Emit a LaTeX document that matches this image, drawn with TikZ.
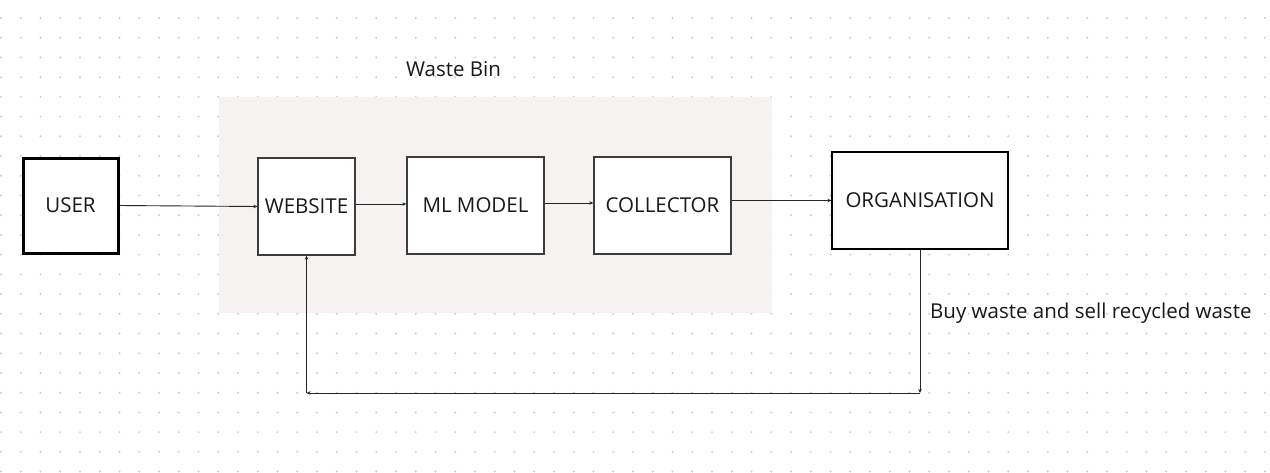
\documentclass[tikz,border=0pt]{standalone}
\usepackage{fontspec}
\setmainfont{Open Sans}
\usetikzlibrary{arrows.meta}
\definecolor{bgpink}{HTML}{F6F2F1}
\definecolor{dotgray}{HTML}{CDCDCD}
\definecolor{edgegray}{HTML}{3C3C3C}
\tikzset{
  box/.style={draw=edgegray, line width=1.3pt, fill=white, inner sep=0pt,
    font=\fontsize{20.5}{23}\selectfont, text=black!90},
  arr/.style={draw=black!85, line width=0.9pt, -{Stealth[length=4pt,width=3.5pt]}},
  lbl/.style={font=\fontsize{20.5}{23}\selectfont, text=black!90, inner sep=0pt}
}
\begin{document}
\begin{tikzpicture}[x=1pt,y=-1pt]
\useasboundingbox (0,0) rectangle (1270,472);
\fill[white] (0,0) rectangle (1270,472);
% dotted grid
\foreach \i in {0,...,64}{
  \foreach \j in {0,...,23}{
    \fill[dotgray] ({1+19.75*\i},{18+19.72*\j}) circle (1.1pt);
  }
}
% waste bin area
\fill[bgpink] (219,97) rectangle (772,313);
\node[lbl] (wastebin) at (453.5,69) {Waste Bin};
% boxes
\node[box, draw=black, line width=3pt, minimum width=95pt, minimum height=95pt] (user) at (70.5,205.5) {USER};
\node[box, minimum width=97pt, minimum height=97pt] (website) at (306.5,206.5) {WEBSITE};
\node[box, minimum width=137pt, minimum height=97pt] (ml) at (475.5,205.5) {ML MODEL};
\node[box, minimum width=137pt, minimum height=97pt] (collector) at (662.5,205.5) {COLLECTOR};
\node[box, draw=black, line width=1.2pt, minimum width=176pt, minimum height=97pt] (org) at (920,200.5) {ORGANISATION};
% connectors
\draw[arr] (user.east) -- (website.west);
\draw[arr] (website.east |- 0,204) -- (ml.west |- 0,204);
\draw[arr] (ml.east |- 0,203) -- (collector.west |- 0,203);
\draw[arr] (collector.east |- org.west) -- (org.west);
\coordinate (c1) at (920,393);
\coordinate (c2) at (306.5,393);
\draw[arr] (org.south) -- (c1);
\draw[arr] (c1) -- (c2);
\draw[arr] (c2) -- (website.south);
\node[lbl, anchor=west] (buy) at (930,313) {Buy waste and sell recycled waste};
\end{tikzpicture}
\end{document}
